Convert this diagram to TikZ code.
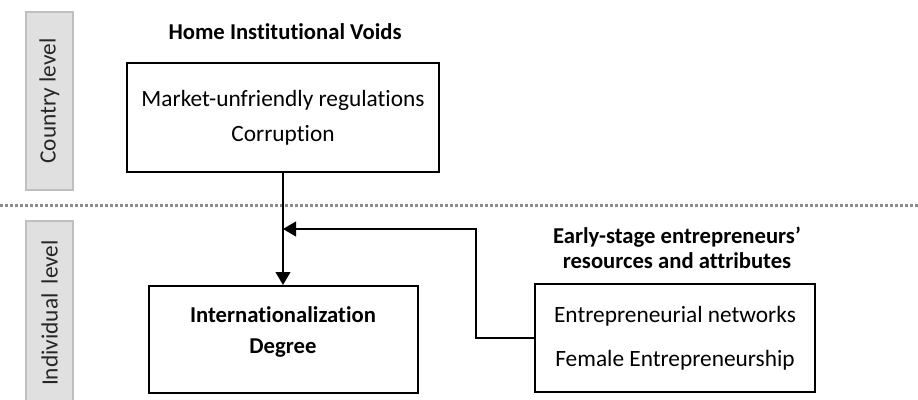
\documentclass[tikz,border=0pt]{standalone}
\usepackage{fontspec}
\setmainfont[Ligatures=NoCommon]{Carlito}
\usetikzlibrary{arrows.meta}

\tikzset{
  levelbox/.style={draw=black!25,fill=black!12,line width=0.8pt,minimum height=35.25pt,text=black!85},
  varbox/.style={draw=black,line width=1.5pt,align=center},
  heading/.style={font=\bfseries\fontsize{17}{18.75}\selectfont,align=center},
  arr/.style={line width=1.5pt,-{Triangle[length=9.75pt,width=11pt]}}
}

\begin{document}
\begin{tikzpicture}[x=0.75pt,y=-0.75pt,font=\fontsize{17.5}{20}\selectfont]
	\useasboundingbox (0,0) rectangle (918,400);
	\clip (0,0) rectangle (918,400);

	% levels
	\node[levelbox,minimum width=133.5pt,rotate=90] (country) at (49.5,101)   {Country level};
	\node[levelbox,minimum width=138pt,rotate=90]   (individual) at (49.5,313) {Individual\, level};
	\draw[black!45,line width=2.25pt,dash pattern=on 2.25pt off 1.5pt] (0,205) -- (918,205);

	% variables
	\node[heading] (hivtitle) at (285,32)    {Home Institutional Voids};
	\node[varbox,minimum width=234pt,minimum height=81.75pt,font=\fontsize{17.5}{26.25}\selectfont] (hiv) at (283,117.5)
		{Market-unfriendly regulations\\Corruption};
	\node[varbox,minimum width=201.75pt,minimum height=80.25pt,text depth=14pt,font=\bfseries\fontsize{17}{23.25}\selectfont] (intl) at (283,339.5)
		{Internationalization\\Degree};
	\node[heading] (restitle) at (677,247.5) {Early-stage entrepreneurs’\\resources and attributes};
	\node[varbox,minimum width=210pt,minimum height=81pt,font=\fontsize{17.5}{33}\selectfont] (res) at (675,338)
		{Entrepreneurial networks\\Female Entrepreneurship};

	% links
	\coordinate (join) at (283,229);
	\draw[arr] (hiv) -- (intl);
	\draw[arr] (res.west) -- ++(-58,0) |- (join);
\end{tikzpicture}
\end{document}
